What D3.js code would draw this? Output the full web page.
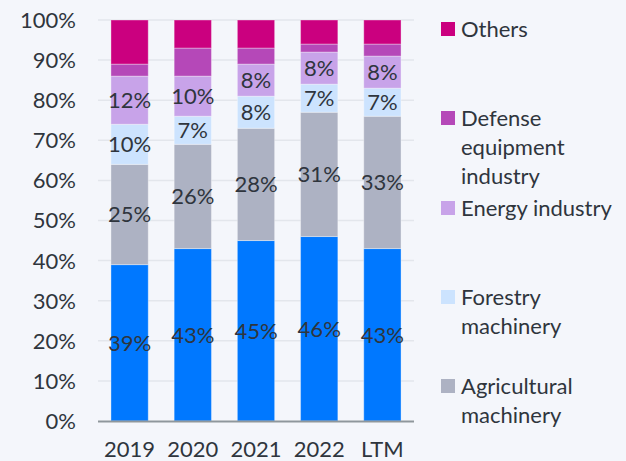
<!DOCTYPE html>
<html>
<head>
<meta charset="utf-8">
<script src="https://cdn.jsdelivr.net/npm/d3@7"></script>
<style>
  html, body { margin: 0; padding: 0; background: #f4f6fb; }
  svg { display: block; }
  text { font-family: Lato, "Open Sans", sans-serif; fill: #2f353d; }
</style>
</head>
<body>
<svg id="chart" width="626" height="461"></svg>
<script>
const categories = ["2019", "2020", "2021", "2022", "LTM"];
const seriesNames = ["Electric machinery", "Agricultural machinery", "Forestry machinery", "Energy industry", "Defense equipment industry", "Others"];
const electric    = [39, 43, 45, 46, 43];
const agricultural = [25, 26, 28, 31, 33];
const forestry    = [10, 7, 8, 7, 7];
const energy      = [12, 10, 8, 8, 8];
const defense     = [3, 7, 4, 2, 3];
const others      = [11, 7, 7, 6, 6];
const yTicks = [0, 10, 20, 30, 40, 50, 60, 70, 80, 90, 100];
const colors = ["#0078ff", "#adb2c3", "#cce3fe", "#c8a3e9", "#b548b8", "#cb007f"];
const labelled = [true, true, true, true, false, false];
const legendItems = [
  { idx: 5, lines: ["Others"] },
  { idx: 4, lines: ["Defense", "equipment", "industry"] },
  { idx: 3, lines: ["Energy industry"] },
  { idx: 2, lines: ["Forestry", "machinery"] },
  { idx: 1, lines: ["Agricultural", "machinery"] }
];
const legendY = [29, 118, 208, 297, 386];

const values = [electric, agricultural, forestry, energy, defense, others];
const rows = categories.map((c, i) => {
  const r = { cat: c };
  seriesNames.forEach((s, k) => r[s] = values[k][i]);
  return r;
});

const svg = d3.select("#chart");
const x = d3.scaleBand().domain(categories).range([98, 414]).paddingInner(0.41).paddingOuter(0.205);
const y = d3.scaleLinear().domain([0, 100]).range([421, 20]);
const FS = 22;

svg.append("g").selectAll("line").data(yTicks.filter(t => t > 0)).join("line")
  .attr("x1", 98).attr("x2", 414)
  .attr("y1", d => y(d)).attr("y2", d => y(d))
  .attr("stroke", "#e3e6ec").attr("stroke-width", 1.5);

svg.append("g").selectAll("text").data(yTicks).join("text")
  .attr("x", 76).attr("y", d => y(d)).attr("dy", "0.36em")
  .attr("text-anchor", "end").attr("font-size", FS)
  .text(d => d + "%");

const stack = d3.stack().keys(seriesNames)(rows);

const g = svg.append("g");
stack.forEach((layer, k) => {
  g.append("g").selectAll("rect").data(layer).join("rect")
    .attr("x", d => x(d.data.cat))
    .attr("width", x.bandwidth())
    .attr("y", d => y(d[1]))
    .attr("height", d => y(d[0]) - y(d[1]))
    .attr("fill", colors[k])
    .attr("stroke", "rgba(255,255,255,0.35)")
    .attr("stroke-width", 1);
});

stack.forEach((layer, k) => {
  if (!labelled[k]) return;
  g.append("g").selectAll("text").data(layer).join("text")
    .attr("x", d => x(d.data.cat) + x.bandwidth() / 2)
    .attr("y", d => (y(d[0]) + y(d[1])) / 2)
    .attr("dy", "0.36em")
    .attr("text-anchor", "middle").attr("font-size", FS)
    .text(d => (d[1] - d[0]) + "%");
});

svg.append("line").attr("x1", 98).attr("x2", 414).attr("y1", 421.5).attr("y2", 421.5)
  .attr("stroke", "#8f979c").attr("stroke-width", 2);

svg.append("g").selectAll("text").data(categories).join("text")
  .attr("x", d => x(d) + x.bandwidth() / 2).attr("y", 457)
  .attr("text-anchor", "middle").attr("font-size", FS)
  .text(d => d);

const lg = svg.append("g");
legendItems.forEach((item, i) => {
  const cy = legendY[i];
  lg.append("rect").attr("x", 441).attr("y", cy - 7).attr("width", 14).attr("height", 14)
    .attr("fill", colors[item.idx]);
  item.lines.forEach((ln, j) => {
    lg.append("text").attr("x", 461).attr("y", cy + j * 29).attr("dy", "0.36em")
      .attr("font-size", FS).text(ln);
  });
});
</script>
</body>
</html>
